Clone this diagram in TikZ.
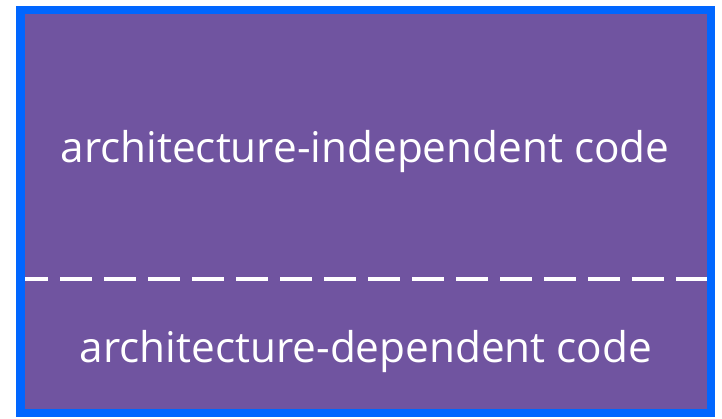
\documentclass[tikz,border=0pt]{standalone}
\usepackage{fontspec}
\setmainfont{Open Sans}
\definecolor{boxfill}{RGB}{112,84,160}
\definecolor{boxedge}{RGB}{0,102,255}
\begin{document}
\begin{tikzpicture}[x=1pt,y=-1pt,
  lbl/.style={text=white,font=\fontsize{42.3}{46}\selectfont,inner sep=0pt,anchor=base}]
\useasboundingbox (0,0) rectangle (722,418);
\fill[boxfill] (20.5,10) rectangle (711,413);
\coordinate (dl) at (16,279);
\coordinate (dr) at (715,279);
\draw[white,line width=3.5pt,dash pattern=on 32pt off 12pt] (dl) -- (dr);
\node[draw=boxedge,line width=8.5pt,minimum width=690.5pt,minimum height=403pt,inner sep=0pt] (box) at (365.75,211.5) {};
\node[lbl] (ind) at (365,162) {architecture-independent code};
\node[lbl] (dep) at (366,362) {architecture-dependent code};
\end{tikzpicture}
\end{document}
